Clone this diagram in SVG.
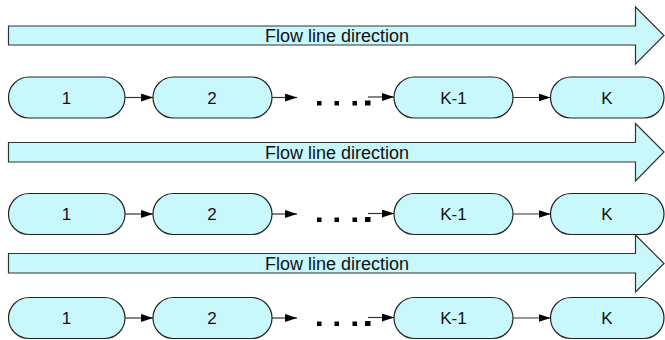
<svg xmlns="http://www.w3.org/2000/svg" width="665" height="340" viewBox="0 0 665 340">
<defs>
<marker id="ah" markerUnits="userSpaceOnUse" markerWidth="12" markerHeight="8" refX="12" refY="4" orient="auto">
<path d="M0,0 L12,4 L0,8 Z" fill="#000"/>
</marker>
<style>
.flow{fill:#c8f8fc;stroke:#333;stroke-width:1.2}
.node{fill:#c8f8fc;stroke:#222;stroke-width:1.2}
.t{font-family:"Liberation Sans",Arial,sans-serif;font-size:17px;fill:#111;text-anchor:middle}
.ft{font-size:18px}
.c{stroke:#333;stroke-width:1.2;fill:none;marker-end:url(#ah)}
.d{fill:#000}
</style>
</defs>
<rect width="665" height="340" fill="#fff"/>

<g id="flow1">
<polygon class="flow" points="8.5,26 635.5,26 635.5,7 664,35.5 635.5,64 635.5,45 8.5,45"/>
<text class="t ft" x="337" y="42">Flow line direction</text>
</g>
<g id="flow2">
<polygon class="flow" points="8.5,142.5 635.5,142.5 635.5,123.5 664,152 635.5,181 635.5,162 8.5,162"/>
<text class="t ft" x="337" y="158.5">Flow line direction</text>
</g>
<g id="flow3">
<polygon class="flow" points="8.5,253.5 635.5,253.5 635.5,235 664,263.5 635.5,292 635.5,273 8.5,273"/>
<text class="t ft" x="337" y="270">Flow line direction</text>
</g>

<g id="r1n1"><rect class="node" x="8.5" y="77" width="116.5" height="41" rx="20.5" ry="20.5"/><text class="t" x="66.5" y="103.5">1</text></g>
<g id="r1n2"><rect class="node" x="153" y="77" width="119" height="41" rx="20.5" ry="20.5"/><text class="t" x="212" y="103.5">2</text></g>
<g id="r1n3"><rect class="node" x="394" y="77" width="119" height="41" rx="20.5" ry="20.5"/><text class="t" x="453.5" y="103.5">K-1</text></g>
<g id="r1n4"><rect class="node" x="550.5" y="77" width="113.5" height="41" rx="20.5" ry="20.5"/><text class="t" x="607" y="103.5">K</text></g>

<g id="r2n1"><rect class="node" x="8.5" y="193.5" width="116.5" height="41" rx="20.5" ry="20.5"/><text class="t" x="66.5" y="220">1</text></g>
<g id="r2n2"><rect class="node" x="153" y="193.5" width="119" height="41" rx="20.5" ry="20.5"/><text class="t" x="212" y="220">2</text></g>
<g id="r2n3"><rect class="node" x="394" y="193.5" width="119" height="41" rx="20.5" ry="20.5"/><text class="t" x="453.5" y="220">K-1</text></g>
<g id="r2n4"><rect class="node" x="550.5" y="193.5" width="113.5" height="41" rx="20.5" ry="20.5"/><text class="t" x="607" y="220">K</text></g>

<g id="r3n1"><rect class="node" x="8.5" y="297.5" width="116.5" height="41" rx="20.5" ry="20.5"/><text class="t" x="66.5" y="324">1</text></g>
<g id="r3n2"><rect class="node" x="153" y="297.5" width="119" height="41" rx="20.5" ry="20.5"/><text class="t" x="212" y="324">2</text></g>
<g id="r3n3"><rect class="node" x="394" y="297.5" width="119" height="41" rx="20.5" ry="20.5"/><text class="t" x="453.5" y="324">K-1</text></g>
<g id="r3n4"><rect class="node" x="550.5" y="297.5" width="113.5" height="41" rx="20.5" ry="20.5"/><text class="t" x="607" y="324">K</text></g>

<g id="connectors">
<line class="c" x1="125" y1="97.5" x2="153" y2="97.5"/>
<line class="c" x1="272" y1="97.5" x2="297" y2="97.5"/>
<line class="c" x1="368" y1="97" x2="394" y2="97"/>
<line class="c" x1="513" y1="97.5" x2="550.5" y2="97.5"/>
<rect class="d" x="317" y="101" width="4.5" height="4.5"/>
<rect class="d" x="334.5" y="101" width="4.5" height="4.5"/>
<rect class="d" x="352.5" y="101" width="4.5" height="4.5"/>
<rect class="d" x="365" y="100.5" width="5.5" height="5"/>

<line class="c" x1="125" y1="214" x2="153" y2="214"/>
<line class="c" x1="272" y1="214" x2="297" y2="214"/>
<line class="c" x1="368" y1="213.5" x2="394" y2="213.5"/>
<line class="c" x1="513" y1="214" x2="550.5" y2="214"/>
<rect class="d" x="317" y="217.5" width="4.5" height="4.5"/>
<rect class="d" x="334.5" y="217.5" width="4.5" height="4.5"/>
<rect class="d" x="352.5" y="217.5" width="4.5" height="4.5"/>
<rect class="d" x="365" y="217" width="5.5" height="5"/>

<line class="c" x1="125" y1="318" x2="153" y2="318"/>
<line class="c" x1="272" y1="318" x2="297" y2="318"/>
<line class="c" x1="368" y1="317.5" x2="394" y2="317.5"/>
<line class="c" x1="513" y1="318" x2="550.5" y2="318"/>
<rect class="d" x="317" y="321.5" width="4.5" height="4.5"/>
<rect class="d" x="334.5" y="321.5" width="4.5" height="4.5"/>
<rect class="d" x="352.5" y="321.5" width="4.5" height="4.5"/>
<rect class="d" x="365" y="321" width="5.5" height="5"/>
</g>
</svg>
